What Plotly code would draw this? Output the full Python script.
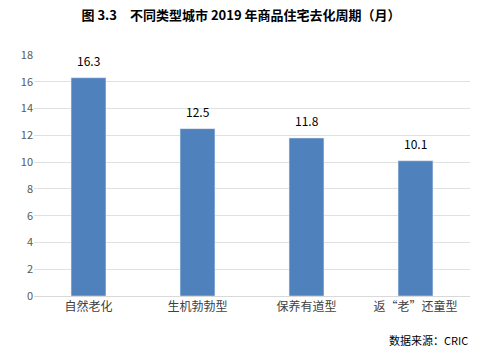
import plotly.graph_objects as go

categories = ["自然老化", "生机勃勃型", "保养有道型", "返“老”还童型"]
values = [16.3, 12.5, 11.8, 10.1]
value_labels = ["16.3", "12.5", "11.8", "10.1"]
y_ticks = [0, 2, 4, 6, 8, 10, 12, 14, 16, 18]

fig = go.Figure(go.Bar(
    x=categories, y=values, marker_color="#4F81BD", width=0.32,
    hoverinfo="x+y",
))

annotations = [dict(x=c, y=v, text=t, xref="x", yref="y", showarrow=False,
                    yanchor="bottom", yshift=7,
                    font=dict(size=12, color="#000000", family="Noto Sans CJK SC"))
               for c, v, t in zip(categories, values, value_labels)]
annotations.append(dict(text="数据来源：CRIC", xref="paper", yref="paper",
                        x=1.0, y=-0.183, xanchor="right", yanchor="middle", showarrow=False,
                        font=dict(size=11, color="#000000", family="Noto Sans CJK SC")))

fig.update_layout(
    width=482, height=354, paper_bgcolor="white", plot_bgcolor="white",
    margin=dict(l=34, r=12, t=55, b=58),
    showlegend=False,
    title=dict(text="<b>图 3.3　不同类型城市 2019 年商品住宅去化周期（月）</b>",
               x=0.5, xanchor="center", y=0.955, yanchor="middle",
               font=dict(size=13, color="#000000", family="Noto Sans CJK SC")),
    annotations=annotations,
)
fig.update_yaxes(range=[0, 18], tickvals=y_ticks, showgrid=True, gridcolor="#E0E0E0",
                 zeroline=False, showline=False, ticks="", ticklen=0,
                 tickfont=dict(size=11, color="#595959", family="Noto Sans CJK SC"))
fig.update_xaxes(showline=True, linecolor="#D9D9D9", linewidth=1, ticks="",
                 tickfont=dict(size=12, color="#404040", family="Noto Sans CJK SC"))

fig.write_html("out.html")
